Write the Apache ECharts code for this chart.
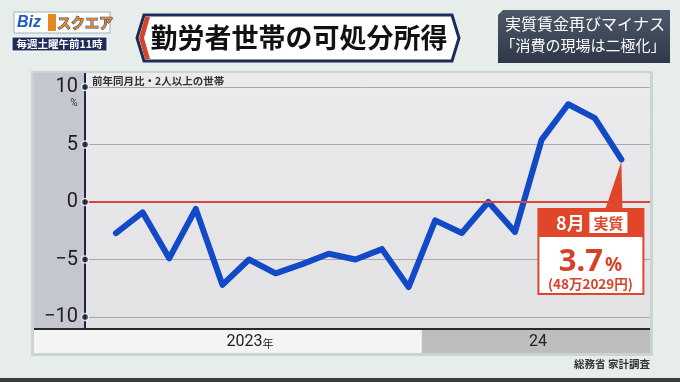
<!DOCTYPE html>
<html><head><meta charset="utf-8">
<script src="https://cdn.jsdelivr.net/npm/echarts@6/dist/echarts.min.js"></script>
<style>html,body{margin:0;padding:0;background:#e6edeb}#c{width:680px;height:382px}</style>
</head><body><div id="c"></div>
<script>
// ---- data ----
const months2023 = ['1月','2月','3月','4月','5月','6月','7月','8月','9月','10月','11月','12月'];
const months2024 = ['1月','2月','3月','4月','5月','6月','7月','8月'];
const values2023 = [-2.7, -0.9, -4.9, -0.6, -7.2, -5.0, -6.2, -5.4, -4.5, -5.0, -4.1, -7.4];
const values2024 = [-1.6, -2.7, 0.0, -2.6, 5.4, 8.5, 7.3, 3.7];
const yearLabels = ['2023', '24'];
const yTicks = [-10, -5, 0, 5, 10];
const latestMonth = '8月';
const latestValue = '3.7';
const latestYen = '(48万2029円)';

const allValues = values2023.concat(values2024);
const lineData = allValues.map((v, i) => [i, v]);
const xMin = -1.165, xMax = 20.075;
const tickDots = yTicks.map(v => [xMin, v]);

const JP = '"Noto Sans CJK JP", "Noto Sans", sans-serif';
const RED = '#e0462a';

const chart = echarts.init(document.getElementById('c'), null, {renderer: 'canvas'});
chart.setOption({
  backgroundColor: '#e6edeb',
  animation: false,
  grid: {left: 85, right: 30, top: 87, bottom: 65},
  xAxis: {type: 'value', min: xMin, max: xMax, show: false},
  yAxis: {
    type: 'value', min: -10, max: 10, interval: 5,
    axisLine: {show: false}, axisTick: {show: false},
    axisLabel: {
      margin: 7, fontSize: 20, color: '#1e1e1e', fontFamily: 'Roboto, "Liberation Sans", sans-serif',
      formatter: v => v < 0 ? '\u2212' + Math.abs(v) : String(v)
    },
    splitLine: {lineStyle: {color: '#a8a8ab', width: 1}}
  },
  series: [
    {
      type: 'line', data: [], z: 2, silent: true,
      markLine: {silent: true, symbol: 'none', label: {show: false},
        lineStyle: {color: '#d9453b', width: 2, type: 'solid'}, data: [{yAxis: 0}]}
    },
    {
      type: 'line', data: lineData, symbol: 'none', z: 3,
      lineStyle: {color: '#1249c6', width: 6, cap: 'round', join: 'round'}
    },
    {
      type: 'scatter', data: tickDots, clip: false, z: 6, symbolSize: 7,
      itemStyle: {color: '#1a1f38', borderColor: '#ffffff', borderWidth: 1.4}
    }
  ]
});

const pLast = chart.convertToPixel({gridIndex: 0}, [allValues.length - 1, allValues[allValues.length - 1]]);
const pSplit = chart.convertToPixel({gridIndex: 0}, [months2023.length - 0.5, 0]);
const bx = pSplit[0];
const boxL = pLast[0] - 84;

chart.setOption({
  graphic: [
    // panel backgrounds
    {type: 'rect', z: -100, shape: {x: 31, y: 71, width: 622, height: 285}, style: {fill: 'rgba(120,140,140,0.25)'}},
    {type: 'rect', z: -99, shape: {x: 34, y: 73, width: 51, height: 256}, style: {fill: '#c4c6d0'}},
    {type: 'rect', z: -99, shape: {x: 85, y: 73, width: 565, height: 256},
      style: {fill: new echarts.graphic.LinearGradient(0, 0, 0, 1, [{offset: 0, color: '#ebebed'}, {offset: 1, color: '#e2e2e4'}])}},
    {type: 'line', z: 4, shape: {x1: 85, y1: 73, x2: 85, y2: 329}, style: {stroke: '#1d2342', lineWidth: 2}},
    {type: 'rect', z: -99, shape: {x: 34, y: 330, width: bx - 34, height: 23}, style: {fill: '#f4f4f4'}},
    {type: 'rect', z: -99, shape: {x: bx, y: 330, width: 650 - bx, height: 23}, style: {fill: '#bdbdbd'}},
    {type: 'line', z: 4, shape: {x1: 34, y1: 329, x2: 650, y2: 329}, style: {stroke: '#2b2b2b', lineWidth: 2}},
    {type: 'text', z: 5, x: 250, y: 342, style: {
      text: '{a|' + yearLabels[0] + '}{b|年}', align: 'center', verticalAlign: 'middle',
      rich: {a: {fontSize: 16, fontFamily: 'Roboto, sans-serif', fill: '#222'}, b: {fontSize: 11, fontFamily: JP, fill: '#222', padding: [3, 0, 0, 0]}}
    }},
    {type: 'text', z: 5, x: 538, y: 342, style: {text: yearLabels[1], align: 'center', verticalAlign: 'middle', fontSize: 16, fontFamily: 'Roboto, sans-serif', fill: '#222'}},
    {type: 'text', z: 5, x: 74, y: 103, style: {text: '%', align: 'center', verticalAlign: 'middle', fontSize: 10, fontFamily: 'Roboto, sans-serif', fill: '#333'}},
    {type: 'text', z: 5, x: 92, y: 81, style: {text: '前年同月比・2人以上の世帯', verticalAlign: 'middle', fontSize: 10.5, fontWeight: 'bold', fontFamily: JP, fill: '#333'}},

    // callout
    {type: 'polygon', z: 1, shape: {points: [[pLast[0], pLast[1] + 2], [pLast[0] - 16, 209], [pLast[0] + 1, 209]]}, style: {fill: RED}},
    {type: 'rect', z: 10, shape: {x: boxL, y: 208, width: 107, height: 87}, style: {fill: RED}},
    {type: 'rect', z: 11, shape: {x: boxL + 2, y: 237, width: 103, height: 56}, style: {fill: '#ffffff'}},
    {type: 'text', z: 12, x: boxL + 33, y: 223, style: {text: latestMonth, align: 'center', verticalAlign: 'middle', fontSize: 18, fontWeight: 'bold', fontFamily: JP, fill: '#fff'}},
    {type: 'rect', z: 12, shape: {x: boxL + 52, y: 212, width: 38, height: 21}, style: {fill: '#fff'}},
    {type: 'text', z: 13, x: boxL + 71, y: 223, style: {text: '実質', align: 'center', verticalAlign: 'middle', fontSize: 15, fontWeight: 'bold', fontFamily: JP, fill: RED}},
    {type: 'text', z: 13, x: boxL + 53, y: 262, style: {
      text: '{a|' + latestValue + '}{b|%}', align: 'center', verticalAlign: 'middle',
      rich: {a: {fontSize: 31, fontWeight: 'bold', fontFamily: '"Noto Sans", sans-serif', fill: '#d8402a'},
             b: {fontSize: 19, fontWeight: 'bold', fontFamily: '"Noto Sans", sans-serif', fill: '#d8402a', padding: [8, 0, 0, 2]}}
    }},
    {type: 'text', z: 13, x: boxL + 53, y: 284, style: {text: latestYen, align: 'center', verticalAlign: 'middle', fontSize: 13.5, fontWeight: 'bold', fontFamily: JP, fill: '#d8402a'}},

    // header: logo
    {type: 'rect', z: 5, shape: {x: 14, y: 12, width: 96, height: 21}, style: {fill: '#ffffff', stroke: '#9fb2c4', lineWidth: 1}},
    {type: 'text', z: 6, x: 17, y: 23, style: {text: 'Biz', verticalAlign: 'middle', fontSize: 16, fontWeight: 'bold', fontStyle: 'italic', fontFamily: '"Liberation Sans", sans-serif', fill: '#1f5bc0'}},
    {type: 'rect', z: 6, shape: {x: 48, y: 14, width: 8, height: 17}, style: {fill: '#e38a1e'}},
    {type: 'text', z: 6, x: 57, y: 23, style: {text: 'スクエア', verticalAlign: 'middle', fontSize: 14, fontWeight: 'bold', fontFamily: JP, fill: '#e8891c', stroke: '#1f3f8f', lineWidth: 1}},
    {type: 'rect', z: 5, shape: {x: 12, y: 37, width: 95, height: 14}, style: {fill: '#1e2d5c', stroke: '#ffffff', lineWidth: 1}},
    {type: 'text', z: 6, x: 59.5, y: 44.5, style: {text: '毎週土曜午前11時', align: 'center', verticalAlign: 'middle', fontSize: 10.5, fontWeight: 'bold', fontFamily: JP, fill: '#fff'}},

    // header: title
    {type: 'polygon', z: 5, shape: {points: [[144, 15], [452, 15], [459, 38], [452, 61], [144, 61], [137, 38]]}, style: {fill: '#ffffff', stroke: '#1c2b5a', lineWidth: 3}},
    {type: 'polygon', z: 6, shape: {points: [[139, 38], [145, 17], [150, 17], [144, 38], [150, 59], [145, 59]]}, style: {fill: '#d3452b'}},
    {type: 'text', z: 7, x: 299, y: 38, style: {text: '勤労者世帯の可処分所得', align: 'center', verticalAlign: 'middle', fontSize: 27, fontWeight: 'bold', fontFamily: JP, fill: '#111'}},

    // header: right box
    {type: 'polygon', z: 5, shape: {points: [[503, 10], [670, 10], [670, 63], [498, 63], [498, 15]]},
      style: {fill: new echarts.graphic.LinearGradient(0, 0, 0, 1, [{offset: 0, color: '#4d5869'}, {offset: 1, color: '#2e3848'}])}},
    {type: 'text', z: 6, x: 585, y: 24, style: {text: '実質賃金再びマイナス', align: 'center', verticalAlign: 'middle', fontSize: 16, fontFamily: JP, fill: '#fff'}},
    {type: 'text', z: 6, x: 583, y: 45, style: {text: '「消費の現場は二極化」', align: 'center', verticalAlign: 'middle', fontSize: 15, fontFamily: JP, fill: '#fff'}},

    // source & bottom bar
    {type: 'text', z: 5, x: 650, y: 364, style: {text: '総務省 家計調査', align: 'right', verticalAlign: 'middle', fontSize: 10.5, fontWeight: 'bold', fontFamily: JP, fill: '#333'}},
    {type: 'rect', z: 5, shape: {x: 0, y: 378, width: 680, height: 4}, style: {fill: '#3a3d40'}}
  ]
});
</script></body></html>
